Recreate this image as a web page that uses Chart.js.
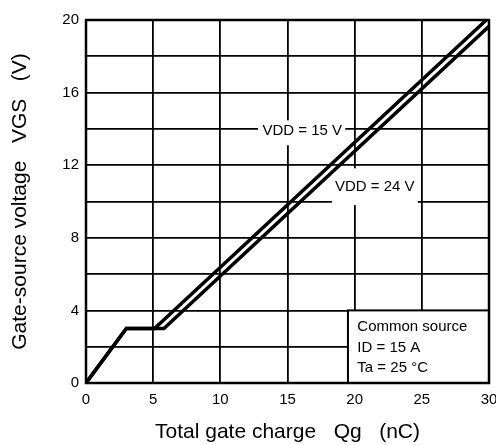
<!DOCTYPE html>
<html>
<head>
<meta charset="utf-8">
<script src="https://cdn.jsdelivr.net/npm/chart.js@4/dist/chart.umd.min.js"></script>
<style>
  html, body { margin: 0; padding: 0; background: #fff; }
  #wrap { width: 496px; height: 445px; }
</style>
</head>
<body>
<div id="wrap"><canvas id="qgChart"></canvas></div>
<script>
// Gate charge curves
const vdd15Qg = [0, 3.0, 5.1, 29.8];
const vdd15Vgs = [0, 3.0, 3.0, 20.0];
const vdd24Qg = [0, 3.0, 5.8, 30.0];
const vdd24Vgs = [0, 3.0, 3.0, 19.65];

const xTicks = [0, 5, 10, 15, 20, 25, 30];
const yLabelTicks = [0, 4, 8, 12, 16, 20];

const conditions = ['Common source', 'ID = 15 A', 'Ta = 25 °C'];

const FONT = "'Liberation Sans', Arial, sans-serif";

function toPoints(xs, ys) {
    return xs.map((x, i) => ({ x: x, y: ys[i] }));
}

// labels on the curves, info box and frame
const annotations = {
    id: 'annotations',
    beforeDatasetsDraw(chart) {
        const ctx = chart.ctx;
        const xs = chart.scales.x, ys = chart.scales.y;
        const box = (x0, x1, y0, y1) => {
            const l = xs.getPixelForValue(x0), r = xs.getPixelForValue(x1);
            const t = ys.getPixelForValue(y1), b = ys.getPixelForValue(y0);
            ctx.fillStyle = '#fff';
            ctx.fillRect(l, t, r - l, b - t);
        };
        ctx.save();
        box(12.8, 19.3, 13.1, 14.47);
        box(18.3, 24.7, 9.8, 11.83);
        ctx.fillStyle = '#000';
        ctx.font = '15px ' + FONT;
        ctx.textAlign = 'center';
        ctx.textBaseline = 'middle';
        ctx.fillText('VDD = 15 V', xs.getPixelForValue(16.1), ys.getPixelForValue(13.87));
        ctx.fillText('VDD = 24 V', xs.getPixelForValue(21.5), ys.getPixelForValue(10.8));
        ctx.restore();
    },
    afterDatasetsDraw(chart) {
        const ctx = chart.ctx;
        const xs = chart.scales.x, ys = chart.scales.y;
        const area = chart.chartArea;
        ctx.save();
        // info box
        const l = xs.getPixelForValue(19.5), t = ys.getPixelForValue(4);
        ctx.fillStyle = '#fff';
        ctx.fillRect(l, t, area.right - l, area.bottom - t);
        ctx.strokeStyle = '#000';
        ctx.lineWidth = 2;
        ctx.strokeRect(l, t, area.right - l, area.bottom - t);
        ctx.fillStyle = '#000';
        ctx.font = '15px ' + FONT;
        ctx.textAlign = 'left';
        ctx.textBaseline = 'middle';
        const rowY = [3.08, 1.93, 0.83];
        conditions.forEach((s, i) => {
            ctx.fillText(s, xs.getPixelForValue(20.2), ys.getPixelForValue(rowY[i]));
        });
        // frame
        ctx.lineWidth = 2.5;
        ctx.strokeRect(area.left, area.top, area.right - area.left, area.bottom - area.top);
        ctx.restore();
    }
};

const ctx = document.getElementById('qgChart').getContext('2d');
const qgChart = new Chart(ctx, {
    type: 'scatter',
    data: {
        datasets: [{
            label: 'VDD = 15 V',
            data: toPoints(vdd15Qg, vdd15Vgs),
            showLine: true,
            borderColor: '#000',
            borderWidth: 3.5,
            pointRadius: 0,
            tension: 0
        }, {
            label: 'VDD = 24 V',
            data: toPoints(vdd24Qg, vdd24Vgs),
            showLine: true,
            borderColor: '#000',
            borderWidth: 3.5,
            pointRadius: 0,
            tension: 0
        }]
    },
    options: {
        responsive: true,
        maintainAspectRatio: false,
        animation: false,
        devicePixelRatio: 1,
        layout: { padding: { top: 20, right: 7, left: 0, bottom: 0 } },
        plugins: {
            legend: { display: false },
            tooltip: { enabled: false }
        },
        scales: {
            x: {
                type: 'linear',
                min: 0,
                max: 30,
                afterBuildTicks: s => { s.ticks = xTicks.map(v => ({ value: v })); },
                afterFit: s => { s.height = 62; s.paddingLeft = 0; s.paddingRight = 0; },
                grid: { color: '#000', lineWidth: 1.8, drawTicks: false },
                border: { display: false },
                ticks: {
                    color: '#000',
                    padding: 8,
                    maxRotation: 0,
                    font: { family: FONT, size: 15 }
                },
                title: {
                    display: true,
                    text: 'Total gate charge   Qg   (nC)',
                    color: '#000',
                    font: { family: FONT, size: 21 },
                    padding: { top: 0, bottom: 0 }
                }
            },
            y: {
                type: 'linear',
                min: 0,
                max: 20,
                ticks: {
                    stepSize: 2,
                    color: '#000',
                    padding: 7,
                    font: { family: FONT, size: 15 },
                    callback: v => yLabelTicks.includes(v) ? String(v) : ''
                },
                afterFit: s => { s.width = 86; s.paddingTop = 0; s.paddingBottom = 0; },
                grid: { color: '#000', lineWidth: 1.8, drawTicks: false },
                border: { display: false },
                title: {
                    display: true,
                    text: 'Gate-source voltage   VGS   (V)',
                    color: '#000',
                    font: { family: FONT, size: 21 },
                    padding: { top: 8, bottom: 0 }
                }
            }
        }
    },
    plugins: [annotations]
});
</script>
</body>
</html>
